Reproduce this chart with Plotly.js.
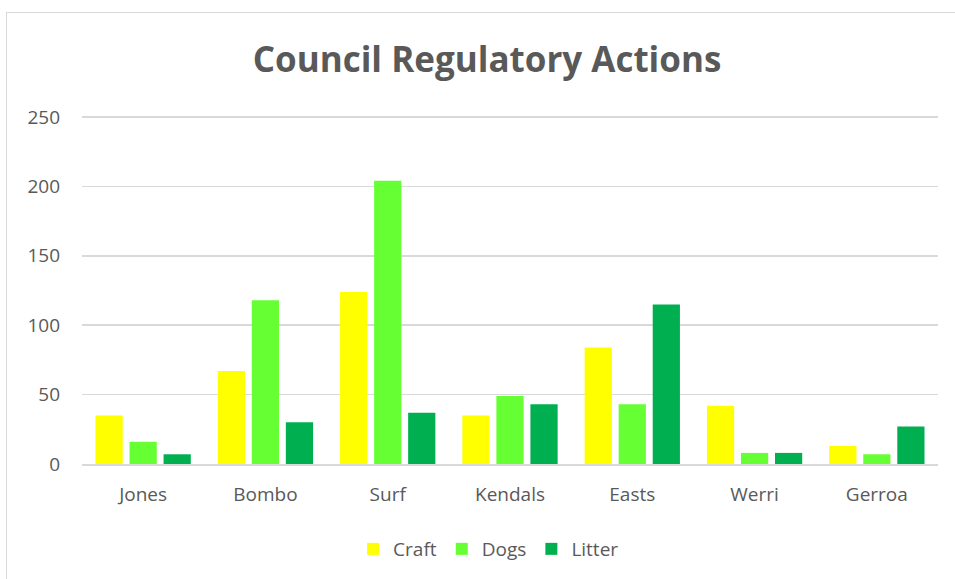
<!DOCTYPE html>
<html>
<head>
<meta charset="utf-8">
<script src="https://cdn.plot.ly/plotly-3.0.1.min.js"></script>
<style>
  html, body { margin: 0; padding: 0; background: #fff; }
  #chart { width: 955px; height: 579px; position: absolute; left: 0; top: 0; }
  #frame { position: absolute; left: 6px; top: 12px; width: 960px; height: 580px; border: 1px solid #d9d9d9; pointer-events: none; }
</style>
</head>
<body>
<div id="chart"></div>
<div id="frame"></div>
<script>
const categories = ["Jones", "Bombo", "Surf", "Kendals", "Easts", "Werri", "Gerroa"];
const craft  = [35, 67, 124, 35, 84, 42, 13];
const dogs   = [16, 118, 204, 49, 43, 8, 7];
const litter = [7, 30, 37, 43, 115, 8, 27];
const yTicks = [0, 50, 100, 150, 200, 250];

const textColor = "#595959";
const font = "Open Sans, Liberation Sans, sans-serif";

const traces = [
  { name: "Craft", y: craft, color: "#FFFF00" },
  { name: "Dogs", y: dogs, color: "#66FF33" },
  { name: "Litter", y: litter, color: "#00B050" }
].map(s => ({
  type: "bar",
  name: s.name,
  x: categories,
  y: s.y,
  marker: { color: s.color, line: { width: 0 } },
  hoverinfo: "x+y+name"
}));

const layout = {
  width: 955,
  height: 579,
  paper_bgcolor: "#ffffff",
  plot_bgcolor: "#ffffff",
  margin: { l: 82, r: 17, t: 115, b: 114 },
  barmode: "group",
  bargap: 0.165,
  bargroupgap: 0.2,
  font: { family: font, color: textColor, size: 18 },
  title: {
    text: "<b>Council Regulatory Actions</b>",
    font: { family: font, size: 35, color: textColor },
    x: 0.51, xanchor: "center",
    y: 1 - 60 / 579, yanchor: "middle"
  },
  xaxis: {
    type: "category",
    showgrid: false,
    showline: true,
    linecolor: "#d9d9d9",
    linewidth: 1.5,
    ticks: "",
    tickfont: { family: font, size: 19, color: textColor },
    ticklabelstandoff: 13,
    zeroline: false
  },
  yaxis: {
    range: [0, 251.44],
    tickvals: yTicks,
    ticktext: yTicks.map(String),
    showgrid: true,
    gridcolor: "#d9d9d9",
    gridwidth: 1.5,
    zeroline: false,
    showline: false,
    ticks: "",
    tickfont: { family: font, size: 19, color: textColor },
    ticklabelstandoff: 21
  },
  legend: {
    orientation: "h",
    x: 0.475, xanchor: "center",
    y: (465 - 549) / 350, yanchor: "middle",
    font: { family: font, size: 19, color: textColor },
    itemwidth: 30,
    traceorder: "normal"
  },
  showlegend: true
};

Plotly.newPlot("chart", traces, layout, { displayModeBar: false, staticPlot: true });
</script>
</body>
</html>
